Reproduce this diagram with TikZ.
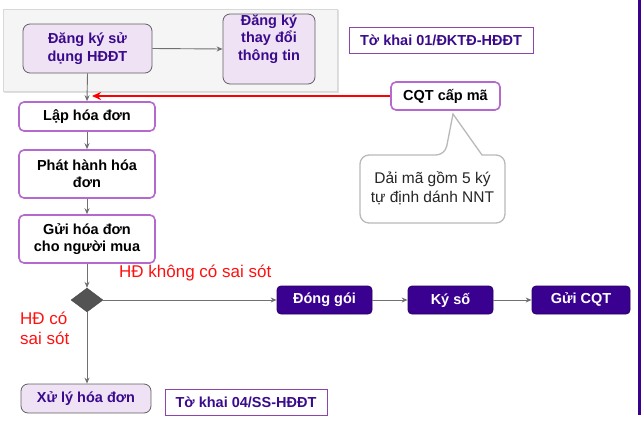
\documentclass[tikz,border=0pt]{standalone}
\usepackage{fontspec}
\setmainfont{Liberation Sans}
\usetikzlibrary{shapes.geometric,arrows.meta}
\definecolor{indigo}{HTML}{3A0090}
\definecolor{titletext}{HTML}{3A0A8C}
\definecolor{lav}{HTML}{EEE2F4}
\definecolor{pborder}{HTML}{B569CF}
\definecolor{fborder}{HTML}{8E44AD}
\definecolor{conncol}{HTML}{707070}
\definecolor{redtxt}{HTML}{FF1010}
\begin{document}
\begin{tikzpicture}[x=1pt,y=-1pt,
  bfont/.style={font=\bfseries\fontsize{14.5}{17.5}\selectfont},
  lavbox/.style={bfont, draw=gray!75!black, fill=lav, rounded corners=7pt, line width=0.8pt, text=titletext, align=center, inner sep=0pt},
  whitebox/.style={bfont, draw=pborder, fill=white, rounded corners=5pt, line width=1.6pt, text=black, align=center, inner sep=0pt},
  darkbox/.style={bfont, draw=indigo!70!black, fill=indigo, rounded corners=4pt, line width=0.8pt, text=white, align=center, inner sep=0pt, minimum height=28pt},
  formbox/.style={bfont, draw=fborder, line width=1pt, text=titletext, align=center, inner sep=0pt, minimum height=26pt},
  conn/.style={draw=conncol, line width=0.9pt, -{Stealth[length=6pt,width=5pt]}},
  redlbl/.style={text=redtxt, font=\fontsize{17}{20}\selectfont, align=left, inner sep=0pt}
]
\useasboundingbox (0,0) rectangle (642,423);
% panel
\fill[gray!25] (4,10) rectangle (339,93);
\draw[draw=gray!30, fill=gray!8] (3,9) rectangle (337,91);
% purple line
\fill[indigo] (637.5,0) rectangle (640.5,415);

\node[lavbox, minimum width=129pt, minimum height=49pt] (reg) at (87.5,48.5) {Đăng ký sử\\dụng HĐĐT};
\node[lavbox, minimum width=92pt, minimum height=70pt,
  label={[bfont, text=titletext, align=center, anchor=north, yshift=-1pt, inner sep=0pt]north:Đăng ký\\thay đổi\\thông tin}] (chg) at (269,49) {};
\node[formbox, minimum width=184pt] (tk1) at (441,40) {Tờ khai 01/ĐKTĐ-HĐĐT};
\node[whitebox, minimum width=109pt, minimum height=28pt] (cqt) at (445.5,96) {CQT cấp mã};

\node[whitebox, minimum width=136pt, minimum height=29pt] (lap) at (87,116.5) {Lập hóa đơn};
\node[whitebox, minimum width=136pt, minimum height=48pt] (ph) at (87,174) {Phát hành hóa\\đơn};
\node[whitebox, minimum width=136pt, minimum height=48pt] (gui) at (87,239) {Gửi hóa đơn\\cho người mua};
\node[diamond, fill=gray!65!black, draw=gray!60!black, minimum width=32pt, minimum height=24pt, inner sep=0pt, aspect=1.33] (dia) at (87,300) {};

\node[darkbox, minimum width=95pt] (dong) at (324.5,300) {Đóng gói};
\node[darkbox, minimum width=85pt] (ky) at (450.5,300) {Ký số};
\node[darkbox, minimum width=98pt] (gcqt) at (581,300) {Gửi CQT};

\node[lavbox, minimum width=130pt, minimum height=29pt] (xl) at (86,398.5) {Xử lý hóa đơn};
\node[formbox, minimum width=162pt] (tk4) at (246,402) {Tờ khai 04/SS-HĐĐT};

% callout
\draw[draw=gray!55, line width=1.3pt, fill=white, rounded corners=9pt]
  (445,155) [sharp corners] -- (453,114) -- (482,155) [rounded corners=9pt] -- (505,155) -- (505,223) -- (360,223) -- (360,155) -- cycle;
\node[font=\fontsize{15.5}{19}\selectfont, align=center, text=black!85] (callt) at (432.5,188.5) {Dải mã gồm 5 ký\\tự định dánh NNT};

% labels
\node[redlbl, anchor=west] (lblok) at (119,273) {HĐ không có sai sót};
\node[redlbl, anchor=west] (lblerr) at (20,328) {HĐ có\\sai sót};

% connectors
\draw[conn] (reg.east) -- (chg.west);
\draw[conn] (reg.south) -- (lap.north);
\draw[conn] (lap.south) -- (ph.north);
\draw[conn] (ph.south) -- (gui.north);
\draw[conn] (gui.south) -- (dia.north);
\draw[conn] (dia.east) -- (dong.west);
\draw[conn] (dong.east) -- (ky.west);
\draw[conn] (ky.east) -- (gcqt.west);
\draw[conn] (dia.south) -- (xl.north -| dia.south);
\coordinate (redend) at (92,96);
\draw[red, line width=2.8pt, -{Stealth[length=9pt,width=8pt]}] (cqt.west) -- (redend);
\end{tikzpicture}
\end{document}
